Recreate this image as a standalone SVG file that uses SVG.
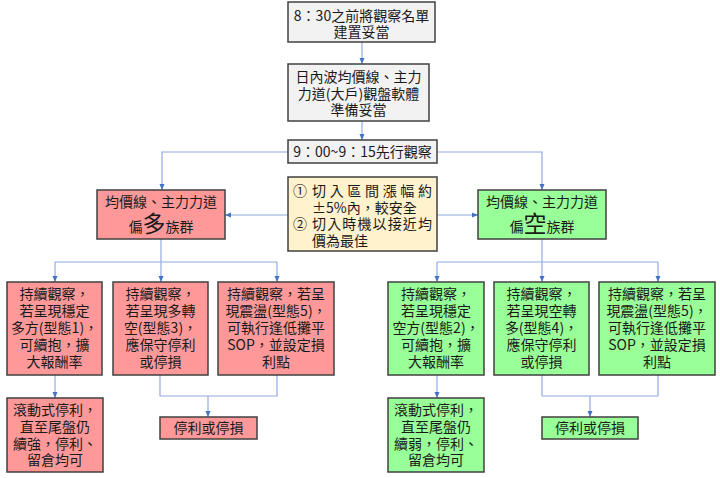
<svg xmlns="http://www.w3.org/2000/svg" width="720" height="478" viewBox="0 0 720 478">
<style>
text{font-family:"Noto Sans CJK TC","Noto Sans CJK SC",sans-serif;font-size:14px;fill:#1a1a1a;text-anchor:middle}
.l{text-anchor:start}
.box{stroke:#404040;stroke-width:1.5}
.gray{fill:#F2F2F2}
.red{fill:#FF9999}
.green{fill:#99FF99}
.yel{fill:#FFF2CC}
.big{font-size:23px}
#connectors path{fill:none;stroke:#8FAADC;stroke-width:1.2}
</style>
<defs>
<marker id="ah" viewBox="0 0 6 6" refX="6" refY="3" markerWidth="6" markerHeight="6" markerUnits="userSpaceOnUse" orient="auto"><path d="M0,0.5 L6,3 L0,5.5 z" fill="#4472C4"/></marker>
</defs>
<rect width="720" height="478" fill="#ffffff"/>
<g id="connectors">
<path d="M362,42 V64" marker-end="url(#ah)"/>
<path d="M362,121 V140" marker-end="url(#ah)"/>
<path d="M288,152 H162 V190" marker-end="url(#ah)"/>
<path d="M437,152 H542 V190" marker-end="url(#ah)"/>
<path d="M288,215 H225" marker-end="url(#ah)"/>
<path d="M437,215 H478" marker-end="url(#ah)"/>
<path d="M161,239 V282" marker-end="url(#ah)"/>
<path d="M55,262 H277"/>
<path d="M55,262 V282" marker-end="url(#ah)"/>
<path d="M277,262 V282" marker-end="url(#ah)"/>
<path d="M542,239 V282" marker-end="url(#ah)"/>
<path d="M437,262 H658"/>
<path d="M437,262 V282" marker-end="url(#ah)"/>
<path d="M658,262 V282" marker-end="url(#ah)"/>
<path d="M55,375 V398" marker-end="url(#ah)"/>
<path d="M160,375 V396 H277 V375"/>
<path d="M208,396 V417" marker-end="url(#ah)"/>
<path d="M437,375 V398" marker-end="url(#ah)"/>
<path d="M542,375 V396 H658 V375"/>
<path d="M590,396 V417" marker-end="url(#ah)"/>
</g>
<g id="n1">
<rect class="box gray" x="288" y="2" width="147" height="40"/>
<text x="361.5" y="20.5">8：30之前將觀察名單<tspan x="361.5" dy="16">建置妥當</tspan></text>
</g>
<g id="n2">
<rect class="box gray" x="288" y="64" width="141" height="57"/>
<text x="358.5" y="82">日內波均價線、主力<tspan x="358.5" dy="17">力道(大戶)觀盤軟體</tspan><tspan x="358.5" dy="16">準備妥當</tspan></text>
</g>
<g id="n3">
<rect class="box gray" x="288" y="140" width="149" height="23"/>
<text x="362.5" y="157">9：00~9：15先行觀察</text>
</g>
<g id="tip">
<rect class="box yel" x="288" y="177" width="149" height="74"/>
<text class="l" x="293" y="196">①<tspan x="312" textLength="120" lengthAdjust="spacing">切入區間漲幅約</tspan><tspan x="312" dy="16.5">±5%內，較安全</tspan><tspan x="293" dy="16.5">②</tspan><tspan x="312" textLength="120" lengthAdjust="spacing">切入時機以接近均</tspan><tspan x="312" dy="16.5">價為最佳</tspan></text>
</g>
<g id="long">
<rect class="box red" x="97" y="190" width="128" height="49"/>
<text x="161" y="207">均價線、主力力道<tspan x="161" dy="25">偏<tspan class="big">多</tspan>族群</tspan></text>
</g>
<g id="short">
<rect class="box green" x="478" y="190" width="128" height="49"/>
<text x="542" y="207">均價線、主力力道<tspan x="542" dy="25">偏<tspan class="big">空</tspan>族群</tspan></text>
</g>
<g id="a1">
<rect class="box red" x="7" y="282" width="95" height="93"/>
<text x="54.5" y="298.5">持續觀察，<tspan x="54.5" dy="17">若呈現穩定</tspan><tspan x="54.5" dy="17">多方(型態1)，</tspan><tspan x="54.5" dy="17">可續抱，擴</tspan><tspan x="54.5" dy="17">大報酬率</tspan></text>
</g>
<g id="a2">
<rect class="box red" x="113" y="282" width="95" height="93"/>
<text x="160.5" y="298.5">持續觀察，<tspan x="160.5" dy="17">若呈現多轉</tspan><tspan x="160.5" dy="17">空(型態3)，</tspan><tspan x="160.5" dy="17">應保守停利</tspan><tspan x="160.5" dy="17">或停損</tspan></text>
</g>
<g id="a3">
<rect class="box red" x="218" y="282" width="116" height="93"/>
<text x="276" y="298.5">持續觀察，若呈<tspan x="276" dy="17">現震盪(型態5)，</tspan><tspan x="276" dy="17">可執行逢低攤平</tspan><tspan x="276" dy="17">SOP，並設定損</tspan><tspan x="276" dy="17">利點</tspan></text>
</g>
<g id="b1">
<rect class="box green" x="388" y="282" width="96" height="93"/>
<text x="436" y="298.5">持續觀察，<tspan x="436" dy="17">若呈現穩定</tspan><tspan x="436" dy="17">空方(型態2)，</tspan><tspan x="436" dy="17">可續抱，擴</tspan><tspan x="436" dy="17">大報酬率</tspan></text>
</g>
<g id="b2">
<rect class="box green" x="494" y="282" width="95" height="93"/>
<text x="541.5" y="298.5">持續觀察，<tspan x="541.5" dy="17">若呈現空轉</tspan><tspan x="541.5" dy="17">多(型態4)，</tspan><tspan x="541.5" dy="17">應保守停利</tspan><tspan x="541.5" dy="17">或停損</tspan></text>
</g>
<g id="b3">
<rect class="box green" x="599" y="282" width="116" height="93"/>
<text x="657" y="298.5">持續觀察，若呈<tspan x="657" dy="17">現震盪(型態5)，</tspan><tspan x="657" dy="17">可執行逢低攤平</tspan><tspan x="657" dy="17">SOP，並設定損</tspan><tspan x="657" dy="17">利點</tspan></text>
</g>
<g id="c1">
<rect class="box red" x="7" y="398" width="96" height="74"/>
<text x="55" y="414.5">滾動式停利，<tspan x="55" dy="17">直至尾盤仍</tspan><tspan x="55" dy="17">續強，停利、</tspan><tspan x="55" dy="16.5">留倉均可</tspan></text>
</g>
<g id="c2">
<rect class="box red" x="160" y="417" width="97" height="22"/>
<text x="208.5" y="433">停利或停損</text>
</g>
<g id="d1">
<rect class="box green" x="388" y="398" width="96" height="74"/>
<text x="436" y="414.5">滾動式停利，<tspan x="436" dy="17">直至尾盤仍</tspan><tspan x="436" dy="17">續弱，停利、</tspan><tspan x="436" dy="16.5">留倉均可</tspan></text>
</g>
<g id="d2">
<rect class="box green" x="542" y="417" width="96" height="22"/>
<text x="590" y="433">停利或停損</text>
</g>
</svg>
